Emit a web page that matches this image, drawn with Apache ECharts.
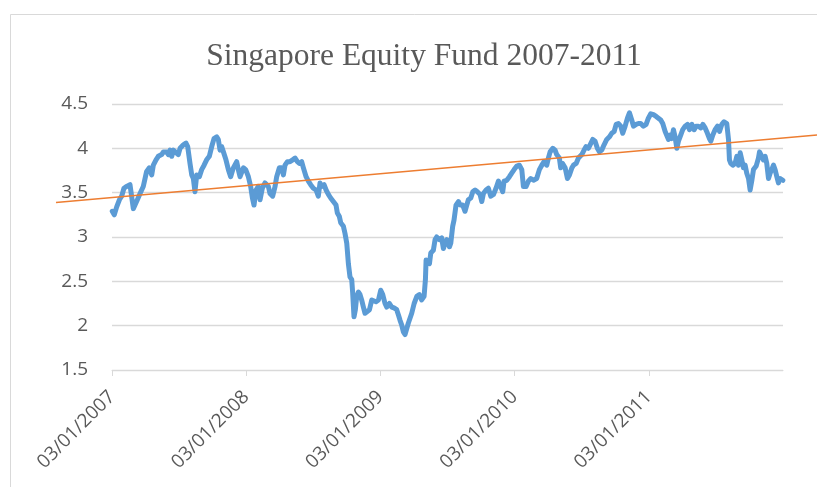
<!DOCTYPE html>
<html>
<head>
<meta charset="utf-8">
<script src="https://cdn.jsdelivr.net/npm/echarts@6/dist/echarts.min.js"></script>
<style>
  html, body { margin: 0; padding: 0; background: #fff; }
  #chart { width: 817px; height: 487px; }
</style>
</head>
<body>
<div id="chart"></div>
<script>
// time in years since 03/01/2007
var tYears = [
  0.002,0.017,0.035,0.055,0.072,0.089,0.109,0.134,0.147,0.159,
  0.171,0.189,0.209,0.233,0.258,0.278,0.296,0.308,0.328,0.345,
  0.370,0.383,0.407,0.420,0.432,0.445,0.457,0.469,0.494,0.507,
  0.532,0.551,0.564,0.581,0.594,0.606,0.618,0.631,0.651,0.668,
  0.686,0.705,0.725,0.743,0.760,0.780,0.792,0.805,0.817,0.830,
  0.849,0.867,0.884,0.904,0.929,0.941,0.954,0.979,0.996,1.016,
  1.033,1.046,1.058,1.073,1.090,1.103,1.120,1.140,1.153,1.165,
  1.177,1.197,1.215,1.227,1.247,1.264,1.277,1.289,1.307,1.326,
  1.346,1.364,1.381,1.396,1.413,1.426,1.446,1.463,1.480,1.500,
  1.520,1.537,1.550,1.562,1.580,1.595,1.612,1.629,1.649,1.669,
  1.679,1.694,1.704,1.724,1.736,1.749,1.761,1.773,1.786,1.793,
  1.803,1.813,1.823,1.836,1.848,1.860,1.873,1.885,1.898,1.918,
  1.935,1.947,1.967,1.985,2.002,2.017,2.034,2.047,2.067,2.084,
  2.101,2.121,2.134,2.146,2.158,2.171,2.183,2.208,2.233,2.251,
  2.271,2.290,2.307,2.325,2.335,2.340,2.350,2.365,2.375,2.394,
  2.407,2.419,2.439,2.456,2.469,2.481,2.494,2.514,2.524,2.538,
  2.548,2.563,2.581,2.593,2.613,2.630,2.643,2.655,2.673,2.688,
  2.705,2.722,2.742,2.755,2.767,2.787,2.804,2.822,2.842,2.861,
  2.879,2.891,2.911,2.921,2.941,2.961,2.978,2.996,3.016,3.035,
  3.053,3.065,3.085,3.102,3.120,3.140,3.164,3.184,3.202,3.219,
  3.239,3.251,3.264,3.284,3.301,3.313,3.333,3.343,3.356,3.376,
  3.393,3.408,3.426,3.438,3.458,3.475,3.500,3.517,3.532,3.549,
  3.562,3.582,3.599,3.616,3.631,3.649,3.666,3.686,3.706,3.723,
  3.741,3.756,3.773,3.790,3.805,3.823,3.840,3.855,3.872,3.885,
  3.904,3.922,3.939,3.959,3.979,3.996,4.014,4.034,4.054,4.071,
  4.088,4.103,4.121,4.133,4.146,4.158,4.170,4.183,4.195,4.208,
  4.220,4.237,4.252,4.270,4.287,4.302,4.320,4.337,4.352,4.369,
  4.387,4.402,4.419,4.436,4.451,4.461,4.476,4.493,4.511,4.526,
  4.543,4.560,4.580,4.593,4.600,4.610,4.625,4.642,4.655,4.667,
  4.680,4.692,4.704,4.717,4.729,4.742,4.754,4.767,4.779,4.799,
  4.816,4.824,4.841,4.853,4.866,4.878,4.891,4.903,4.915,4.928,
  4.940,4.953,4.965,4.978,4.998
];
// fund price
var navValues = [
  3.29,3.25,3.34,3.42,3.46,3.55,3.57,3.59,3.57,3.32,
  3.34,3.42,3.49,3.57,3.74,3.78,3.70,3.81,3.87,3.91,
  3.93,3.96,3.96,3.93,3.98,3.91,3.98,3.96,3.93,4.00,
  4.04,4.06,4.02,3.83,3.70,3.66,3.51,3.70,3.68,3.76,
  3.81,3.87,3.91,4.02,4.11,4.13,4.10,3.98,4.02,3.96,
  3.87,3.76,3.68,3.78,3.85,3.76,3.68,3.78,3.76,3.68,
  3.57,3.44,3.36,3.53,3.57,3.42,3.55,3.61,3.63,3.57,
  3.49,3.46,3.57,3.68,3.78,3.78,3.70,3.81,3.85,3.85,
  3.87,3.89,3.85,3.83,3.85,3.78,3.68,3.63,3.59,3.55,
  3.53,3.46,3.61,3.57,3.59,3.53,3.48,3.44,3.40,3.36,
  3.27,3.23,3.16,3.12,3.04,2.93,2.70,2.55,2.52,2.37,
  2.10,2.18,2.33,2.38,2.35,2.29,2.21,2.14,2.12,2.18,
  2.29,2.27,2.27,2.29,2.40,2.35,2.25,2.21,2.25,2.21,
  2.20,2.18,2.12,2.06,2.01,1.93,1.90,2.03,2.14,2.25,
  2.33,2.35,2.29,2.33,2.52,2.74,2.74,2.70,2.82,2.85,
  2.97,3.00,2.97,2.99,2.87,2.93,2.97,2.89,2.93,3.12,
  3.19,3.36,3.40,3.36,3.36,3.29,3.36,3.42,3.44,3.51,
  3.53,3.51,3.48,3.40,3.49,3.53,3.55,3.46,3.48,3.55,
  3.63,3.61,3.51,3.63,3.64,3.68,3.72,3.76,3.80,3.81,
  3.76,3.57,3.57,3.63,3.66,3.64,3.66,3.76,3.81,3.85,
  3.81,3.89,3.96,4.00,3.98,3.93,3.89,3.78,3.83,3.78,
  3.66,3.70,3.78,3.81,3.83,3.89,3.93,3.98,4.02,4.00,
  4.04,4.10,4.08,4.00,3.96,3.98,4.04,4.10,4.13,4.17,
  4.19,4.27,4.28,4.25,4.17,4.25,4.34,4.40,4.32,4.25,
  4.27,4.28,4.28,4.25,4.27,4.34,4.39,4.38,4.36,4.34,
  4.32,4.28,4.19,4.17,4.10,4.15,4.11,4.21,4.13,4.00,
  4.08,4.15,4.21,4.25,4.27,4.21,4.27,4.21,4.25,4.25,
  4.23,4.27,4.23,4.17,4.11,4.08,4.15,4.21,4.25,4.19,
  4.27,4.30,4.28,4.10,3.87,3.83,3.81,3.83,3.91,3.81,
  3.95,3.87,3.78,3.81,3.72,3.66,3.53,3.64,3.76,3.80,
  3.89,3.96,3.91,3.87,3.91,3.83,3.66,3.72,3.76,3.81,
  3.76,3.68,3.61,3.66,3.64
];
// linear trend line, forecast past both ends
var trendT = [-0.417, 5.253];
var trendV = [3.39, 4.15];
var xTickLabels = ['03/01/2007', '03/01/2008', '03/01/2009', '03/01/2010', '03/01/2011'];
var xTickYears = [0, 1, 2, 3, 4];

var navData = tYears.map(function (t, i) { return [t, navValues[i]]; });
var trendData = trendT.map(function (t, i) { return [t, trendV[i]]; });

var chart = echarts.init(document.getElementById('chart'));
chart.setOption({
    backgroundColor: '#fff',
    animation: false,
    title: {
        text: 'Singapore Equity Fund 2007-2011',
        left: 419,
        textAlign: 'center',
        top: 36,
        textStyle: {
            fontFamily: 'Liberation Serif',
            fontSize: 31.5,
            fontWeight: 'normal',
            color: '#595959'
        }
    },
    graphic: [{
        type: 'rect',
        shape: { x: 10.5, y: 14.5, width: 1000, height: 1000 },
        style: { fill: 'none', stroke: '#d9d9d9', lineWidth: 1 },
        silent: true
    }],
    grid: [
        { left: 112, right: 34, top: 104, bottom: 117 },
        // same scale, wider box: lets the trend line run past the plot area
        { left: 56, right: 0, top: 104, bottom: 117 }
    ],
    xAxis: [{
        type: 'value',
        gridIndex: 0,
        min: 0,
        max: 4.999,
        interval: 1,
        splitLine: { show: false },
        axisLine: { lineStyle: { color: '#d9d9d9', width: 1 } },
        axisTick: {
            show: true,
            length: 6,
            customValues: xTickYears,
            lineStyle: { color: '#d9d9d9' }
        },
        axisLabel: {
            rotate: 45,
            margin: 24,
            customValues: xTickYears,
            fontFamily: 'Open Sans',
            fontSize: 19,
            color: '#595959',
            formatter: function (v) { return xTickLabels[Math.round(v)] || ''; }
        }
    }, {
        type: 'value',
        gridIndex: 1,
        min: trendT[0],
        max: trendT[1],
        show: false
    }],
    yAxis: [{
        type: 'value',
        gridIndex: 0,
        min: 1.5,
        max: 4.5,
        interval: 0.5,
        axisLine: { show: false },
        axisTick: { show: false },
        splitLine: { lineStyle: { color: '#d9d9d9', width: 1.3 } },
        axisLabel: {
            margin: 24,
            fontFamily: 'Open Sans',
            fontSize: 19,
            color: '#595959'
        }
    }, {
        type: 'value',
        gridIndex: 1,
        min: 1.5,
        max: 4.5,
        show: false
    }],
    series: [{
        name: 'Fund',
        type: 'line',
        xAxisIndex: 0,
        yAxisIndex: 0,
        data: navData,
        showSymbol: false,
        lineStyle: { color: '#5b9bd5', width: 5, join: 'round', cap: 'round' }
    }, {
        name: 'Trend',
        type: 'line',
        xAxisIndex: 1,
        yAxisIndex: 1,
        data: trendData,
        showSymbol: false,
        lineStyle: { color: '#ed7d31', width: 1.5 }
    }]
});
</script>
</body>
</html>
